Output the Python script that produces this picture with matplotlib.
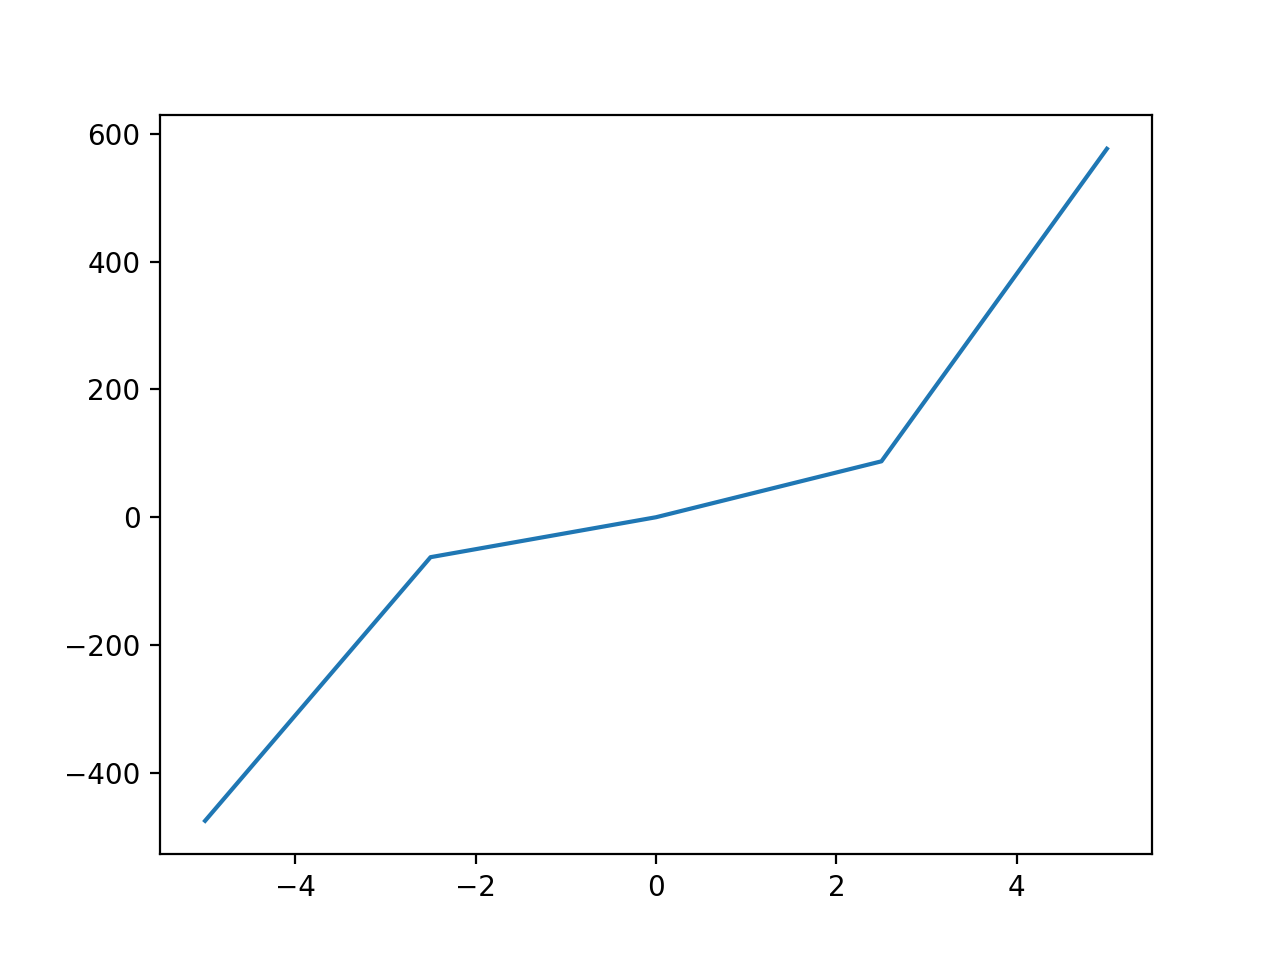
import numpy as np
from matplotlib import pyplot as plt

x = np.array([-5.0, -2.5, 0.0, 2.5, 5.0])
y = np.array([-475.0, -62.5, 0.0, 87.5, 576.5])

fig, ax = plt.subplots(figsize=(6.4, 4.8))
ax.plot(x, y)

fig.savefig('out.png', dpi=200)
